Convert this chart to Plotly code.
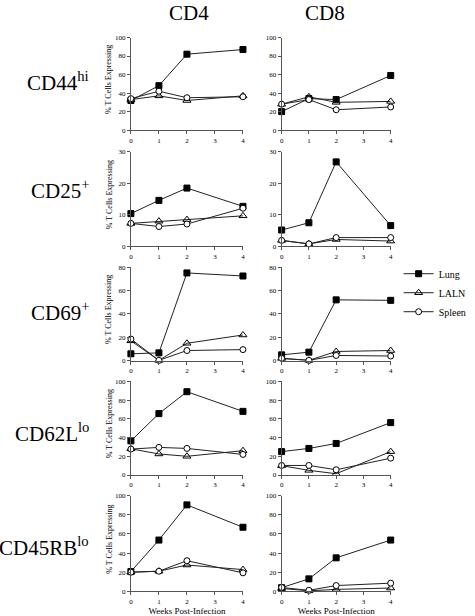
import plotly.graph_objects as go

W, H = 475, 616
FONT = "Liberation Serif"

weeks = [0, 1, 2, 4]
x_ticks = [0, 1, 2, 3, 4]
series_names = ["Lung", "LALN", "Spleen"]
row_labels = ["CD44<sup>hi</sup>", "CD25<sup>+</sup>", "CD69<sup>+</sup>",
              "CD62L<sup>lo</sup>", "CD45RB<sup>lo</sup>"]
col_labels = ["CD4", "CD8"]
y_max = [100, 30, 80, 100, 100]
y_step = [20, 10, 20, 20, 20]

# CD44hi
cd44_cd4_lung = [32, 48, 82, 87]
cd44_cd4_laln = [33, 37, 32, 37]
cd44_cd4_spleen = [34, 42, 35, 36]
cd44_cd8_lung = [20, 34, 33, 59]
cd44_cd8_laln = [28, 36, 30, 31]
cd44_cd8_spleen = [28, 33, 22, 25]
# CD25+
cd25_cd4_lung = [10.4, 14.6, 18.5, 12.7]
cd25_cd4_laln = [7.3, 8.0, 8.5, 9.7]
cd25_cd4_spleen = [7.3, 6.3, 7.1, 12.1]
cd25_cd8_lung = [5.2, 7.5, 26.8, 6.6]
cd25_cd8_laln = [1.9, 0.8, 2.2, 1.7]
cd25_cd8_spleen = [1.9, 0.8, 2.8, 2.8]
# CD69+
cd69_cd4_lung = [5.9, 6.7, 75, 72.4]
cd69_cd4_laln = [17, 0.3, 14.9, 22]
cd69_cd4_spleen = [18.5, 0.3, 8.7, 9.5]
cd69_cd8_lung = [5, 7.3, 52, 51.6]
cd69_cd8_laln = [2, 0.3, 7.9, 8.7]
cd69_cd8_spleen = [2, 0.3, 4.5, 4]
# CD62Llo
cd62_cd4_lung = [36.5, 65.6, 89, 68]
cd62_cd4_laln = [28, 22.5, 20, 26]
cd62_cd4_spleen = [27.7, 29.5, 28.4, 22]
cd62_cd8_lung = [25, 28.4, 33.7, 56]
cd62_cd8_laln = [10, 5, 1.4, 25]
cd62_cd8_spleen = [10.2, 10.2, 5.6, 18]
# CD45RBlo
cd45_cd4_lung = [20.6, 53.6, 90.4, 67]
cd45_cd4_laln = [20, 21, 27.5, 22.7]
cd45_cd4_spleen = [20, 21, 32, 19.3]
cd45_cd8_lung = [3.8, 13, 35, 53.6]
cd45_cd8_laln = [3, 0.5, 2, 3.4]
cd45_cd8_spleen = [4, 1, 6, 8.5]

panels = [
    [(cd44_cd4_lung, cd44_cd4_laln, cd44_cd4_spleen), (cd44_cd8_lung, cd44_cd8_laln, cd44_cd8_spleen)],
    [(cd25_cd4_lung, cd25_cd4_laln, cd25_cd4_spleen), (cd25_cd8_lung, cd25_cd8_laln, cd25_cd8_spleen)],
    [(cd69_cd4_lung, cd69_cd4_laln, cd69_cd4_spleen), (cd69_cd8_lung, cd69_cd8_laln, cd69_cd8_spleen)],
    [(cd62_cd4_lung, cd62_cd4_laln, cd62_cd4_spleen), (cd62_cd8_lung, cd62_cd8_laln, cd62_cd8_spleen)],
    [(cd45_cd4_lung, cd45_cd4_laln, cd45_cd4_spleen), (cd45_cd8_lung, cd45_cd8_laln, cd45_cd8_spleen)],
]

# layout geometry (pixels)
col_px = [(130, 243), (282, 392)]
row_px = [(34, 128), (150, 246), (267, 362), (383, 478), (499, 596)]
row_label_px = [79, 188, 312, 435, 551]

styles = [
    dict(symbol="square", color="black", line=dict(color="black", width=1), size=6),
    dict(symbol="triangle-up-open", color="black", line=dict(color="black", width=1), size=7),
    dict(symbol="circle", color="white", line=dict(color="black", width=1), size=6),
]

def px_x(p):
    return p / W

def px_y(p):
    return 1 - p / H

fig = go.Figure()
layout = dict(
    width=W, height=H, margin=dict(l=0, r=0, t=0, b=0),
    paper_bgcolor="white", plot_bgcolor="white",
    font=dict(family=FONT, color="black", size=7),
    showlegend=True,
    legend=dict(x=px_x(400), y=px_y(259), xanchor="left", yanchor="top",
                font=dict(family=FONT, size=10, color="black"), itemwidth=30,
                bgcolor="rgba(0,0,0,0)", tracegroupgap=0),
)
annotations = []

idx = 0
for r in range(5):
    for c in range(2):
        idx += 1
        xa = "x" if idx == 1 else f"x{idx}"
        ya = "y" if idx == 1 else f"y{idx}"
        xkey = "xaxis" if idx == 1 else f"xaxis{idx}"
        ykey = "yaxis" if idx == 1 else f"yaxis{idx}"
        for s in range(3):
            fig.add_trace(go.Scatter(
                x=weeks, y=panels[r][c][s], mode="lines+markers",
                name=series_names[s], legendgroup=series_names[s],
                showlegend=(idx == 2),
                line=dict(color="#222", width=1),
                marker=styles[s], cliponaxis=False,
                xaxis=xa, yaxis=ya,
            ))
        x0, x1 = col_px[c]
        y0, y1 = row_px[r]
        axis_common = dict(showgrid=False, zeroline=False, showline=True,
                           linecolor="#555", linewidth=1, ticks="outside",
                           ticklen=3, tickcolor="#555", tickwidth=1,
                           tickfont=dict(family=FONT, size=7, color="black"),
                           fixedrange=True)
        layout[xkey] = dict(domain=[px_x(x0), px_x(x1)], range=[0, 4],
                            tickvals=x_ticks, anchor=ya, **axis_common)
        layout[ykey] = dict(domain=[px_y(y1), px_y(y0)], range=[0, y_max[r]],
                            dtick=y_step[r], tick0=0, anchor=xa, **axis_common)
        if r == 4:
            layout[xkey]["title"] = dict(text="Weeks Post-Infection",
                                         font=dict(family=FONT, size=9, color="black"),
                                         standoff=4)
    # row label
    annotations.append(dict(text=row_labels[r], x=px_x(90), y=px_y(row_label_px[r]),
                            xref="paper", yref="paper", xanchor="right",
                            yanchor="middle", showarrow=False,
                            font=dict(family=FONT, size=21, color="black")))
    yc = (row_px[r][0] + row_px[r][1]) / 2
    annotations.append(dict(text="% T Cells Expressing", x=px_x(108), y=px_y(yc - 4),
                            xref="paper", yref="paper", xanchor="center",
                            yanchor="middle", textangle=-90, showarrow=False,
                            font=dict(family=FONT, size=8, color="black")))

for c in range(2):
    xc = (col_px[c][0] + col_px[c][1]) / 2
    annotations.append(dict(text=col_labels[c], x=px_x(xc + (2 if c == 0 else -11)), y=px_y(9),
                            xref="paper", yref="paper", xanchor="center",
                            yanchor="middle", showarrow=False,
                            font=dict(family=FONT, size=21, color="black")))

layout["annotations"] = annotations
fig.update_layout(**layout)
fig.write_html("out.html",
               config={"displayModeBar": False},
               post_script="document.body.style.margin='0';document.body.style.padding='0';")
